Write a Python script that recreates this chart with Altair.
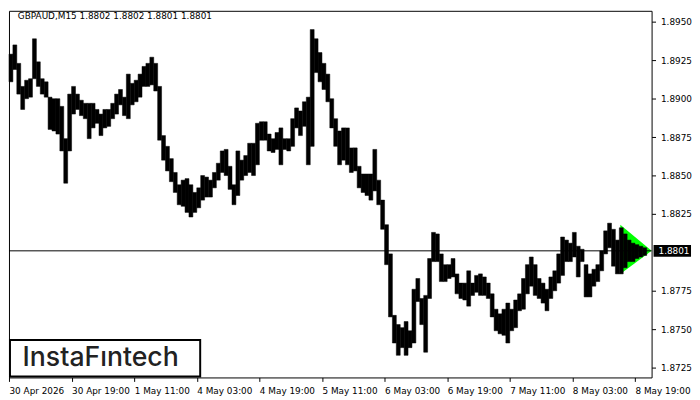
import altair as alt
import pandas as pd

# ---- data (4-bar M15 groups: high / low) ----
highs = [1.8929, 1.8935, 1.8923, 1.8908, 1.8912, 1.8913, 1.8939, 1.8924, 1.8913, 1.8911,
         1.8901, 1.8900, 1.8900, 1.8895, 1.8874, 1.8903, 1.8908, 1.8903, 1.8899, 1.8897,
         1.8897, 1.8897, 1.8893, 1.8890, 1.8893, 1.8893, 1.8897, 1.8903, 1.8906, 1.8901,
         1.8916, 1.8910, 1.8912, 1.8916, 1.8921, 1.8923, 1.8927, 1.8923, 1.8908, 1.8876,
         1.8869, 1.8861, 1.8852, 1.8844, 1.8847, 1.8848, 1.8844, 1.8839, 1.8842, 1.8850,
         1.8849, 1.8847, 1.8852, 1.8858, 1.8866, 1.8867, 1.8856, 1.8844, 1.8866, 1.8860,
         1.8863, 1.8871, 1.8871, 1.8884, 1.8885, 1.8885, 1.8877, 1.8874, 1.8878, 1.8881,
         1.8874, 1.8874, 1.8887, 1.8894, 1.8892, 1.8898, 1.8901, 1.8945, 1.8939, 1.8930,
         1.8923, 1.8916, 1.8900, 1.8887, 1.8879, 1.8881, 1.8881, 1.8868, 1.8868, 1.8856,
         1.8851, 1.8851, 1.8851, 1.8867, 1.8847, 1.8834, 1.8818, 1.8799, 1.8759, 1.8753,
         1.8751, 1.8755, 1.8749, 1.8776, 1.8783, 1.8770, 1.8772, 1.8796, 1.8813, 1.8812,
         1.8799, 1.8792, 1.8792, 1.8796, 1.8786, 1.8780, 1.8780, 1.8788, 1.8780, 1.8785,
         1.8786, 1.8784, 1.8780, 1.8773, 1.8763, 1.8760, 1.8763, 1.8767, 1.8763, 1.8769,
         1.8773, 1.8783, 1.8792, 1.8797, 1.8792, 1.8783, 1.8780, 1.8776, 1.8784, 1.8788,
         1.8799, 1.8810, 1.8808, 1.8806, 1.8813, 1.8804, 1.8802, 1.8792, 1.8786, 1.8789,
         1.8792, 1.8801, 1.8814, 1.8819, 1.8815, 1.8808, 1.8816, 1.8812, 1.8808, 1.8806,
         1.8805, 1.8804, 1.8803]
lows = [1.8911, 1.8919, 1.8903, 1.8893, 1.8900, 1.8901, 1.8913, 1.8908, 1.8903, 1.8901,
        1.8880, 1.8879, 1.8877, 1.8866, 1.8845, 1.8866, 1.8890, 1.8893, 1.8889, 1.8887,
        1.8874, 1.8881, 1.8884, 1.8876, 1.8881, 1.8882, 1.8887, 1.8890, 1.8896, 1.8889,
        1.8887, 1.8896, 1.8898, 1.8901, 1.8908, 1.8908, 1.8909, 1.8905, 1.8873, 1.8860,
        1.8853, 1.8846, 1.8839, 1.8831, 1.8830, 1.8826, 1.8823, 1.8826, 1.8829, 1.8834,
        1.8836, 1.8836, 1.8842, 1.8847, 1.8852, 1.8850, 1.8841, 1.8831, 1.8837, 1.8847,
        1.8850, 1.8852, 1.8850, 1.8857, 1.8873, 1.8873, 1.8866, 1.8865, 1.8867, 1.8857,
        1.8867, 1.8866, 1.8869, 1.8881, 1.8876, 1.8882, 1.8857, 1.8869, 1.8917, 1.8911,
        1.8906, 1.8898, 1.8881, 1.8869, 1.8857, 1.8860, 1.8857, 1.8852, 1.8853, 1.8842,
        1.8839, 1.8837, 1.8834, 1.8840, 1.8831, 1.8815, 1.8792, 1.8758, 1.8741, 1.8733,
        1.8738, 1.8733, 1.8738, 1.8741, 1.8768, 1.8753, 1.8735, 1.8770, 1.8794, 1.8794,
        1.8781, 1.8781, 1.8783, 1.8784, 1.8773, 1.8770, 1.8769, 1.8765, 1.8772, 1.8774,
        1.8772, 1.8772, 1.8770, 1.8758, 1.8749, 1.8747, 1.8746, 1.8741, 1.8749, 1.8751,
        1.8762, 1.8763, 1.8773, 1.8778, 1.8772, 1.8770, 1.8767, 1.8762, 1.8770, 1.8775,
        1.8780, 1.8785, 1.8794, 1.8794, 1.8797, 1.8784, 1.8794, 1.8771, 1.8771, 1.8778,
        1.8781, 1.8788, 1.8799, 1.8803, 1.8791, 1.8786, 1.8786, 1.8790, 1.8794, 1.8794,
        1.8796, 1.8797, 1.8798]
BARS_PER_GROUP = 4
TOTAL_BARS = 657
BARS_PER_LABEL = 64

x_labels = ["30 Apr 2026", "30 Apr 19:00", "1 May 11:00", "4 May 03:00", "4 May 19:00",
            "5 May 11:00", "6 May 03:00", "6 May 19:00", "7 May 11:00", "8 May 03:00",
            "8 May 19:00"]
y_ticks = [1.8725, 1.8750, 1.8775, 1.8825, 1.8850, 1.8875, 1.8900, 1.8925, 1.8950]
y_range = [1.87186, 1.89572]

symbol = "GBPAUD,M15"
header_ohlc = [1.8802, 1.8802, 1.8801, 1.8801]
last_price = 1.8801

pennant_t = [625, 657]
pennant_low = [1.8786, 1.8801]
pennant_high = [1.8818, 1.8801]

# ---- layout ----
W, H = 652, 372
FONT = "DejaVu Sans"
FS = 9

bars = pd.DataFrame({
    "t": [i * BARS_PER_GROUP for i in range(len(highs))],
    "t2": [(i + 1) * BARS_PER_GROUP for i in range(len(highs))],
    "high": highs,
    "low": lows,
})
pennant = pd.DataFrame({"t": pennant_t, "low": pennant_low, "high": pennant_high})
price_df = pd.DataFrame({"p": [last_price], "label": [f"{last_price:.4f}"]})
header_df = pd.DataFrame({"txt": [symbol + "  " + " ".join(f"{v:.4f}" for v in header_ohlc)]})
logo_df = pd.DataFrame({"txt": ["InstaF\u0131ntech"]})

label_arr = "[" + ",".join(f"'{s}'" for s in x_labels) + "]"
xscale = alt.Scale(domain=[0, TOTAL_BARS], nice=False, zero=False)
yscale = alt.Scale(domain=y_range, nice=False, zero=False)

x_axis = alt.Axis(
    values=[i * BARS_PER_LABEL for i in range(len(x_labels))],
    labelExpr=f"{label_arr}[round(datum.value/{BARS_PER_LABEL})]",
    title=None, grid=False, domain=False, tickSize=4, tickColor="black",
    labelAlign="left", labelBaseline="top", labelPadding=5, labelFlush=False,
    labelOverlap=False, labelFont=FONT, labelFontSize=FS, labelColor="black",
)
y_axis = alt.Axis(
    values=y_ticks, format=".4f", orient="right", title=None, grid=False,
    domain=False, tickSize=4, tickColor="black", labelPadding=5,
    labelFlush=False, labelOverlap=False, labelFont=FONT, labelFontSize=FS,
    labelColor="black",
)


def X(field):
    return alt.X(field, scale=xscale, axis=x_axis)


def Y(field):
    return alt.Y(field, scale=yscale, axis=y_axis)


green = alt.Chart(pennant).mark_area(color="#00ff00", opacity=1).encode(
    x=X("t:Q"), y=Y("low:Q"), y2="high:Q",
)

ohlc = alt.Chart(bars).mark_rect(color="black", stroke="black", strokeWidth=0.5).encode(
    x=X("t:Q"), x2="t2:Q", y=Y("low:Q"), y2="high:Q",
)

hline = alt.Chart(price_df).mark_rule(color="black", strokeWidth=1).encode(y=Y("p:Q"))

box = alt.Chart(price_df).mark_tick(color="black", orient="horizontal",
                                    thickness=12, size=38, opacity=1).encode(
    y=Y("p:Q"), x=alt.value(W + 21),
)
box_text = alt.Chart(price_df).mark_text(color="white", align="left", baseline="middle",
                                         font=FONT, fontSize=FS).encode(
    y=Y("p:Q"), x=alt.value(W + 7), text="label:N",
)

header = alt.Chart(header_df).mark_text(align="left", baseline="middle", font=FONT,
                                        fontSize=FS, color="black").encode(
    x=alt.value(9), y=alt.value(5), text="txt:N"
)

logo_box = alt.Chart(logo_df).mark_rect(fill="white", stroke="black", strokeWidth=2).encode(
    x=alt.value(1), x2=alt.value(194), y=alt.value(334), y2=alt.value(371)
)
logo_text = alt.Chart(logo_df).mark_text(align="center", baseline="middle", font="Inter",
                                         fontSize=27, fontWeight=500, color="#222222").encode(
    x=alt.value(93), y=alt.value(352), text="txt:N"
)

chart = alt.layer(green, ohlc, hline, box, box_text, header, logo_box, logo_text).properties(
    width=W, height=H, padding=0, background="white"
).configure_view(stroke="black", strokeWidth=1)

chart.save("out.html", embed_options={"renderer": "svg", "actions": False})
